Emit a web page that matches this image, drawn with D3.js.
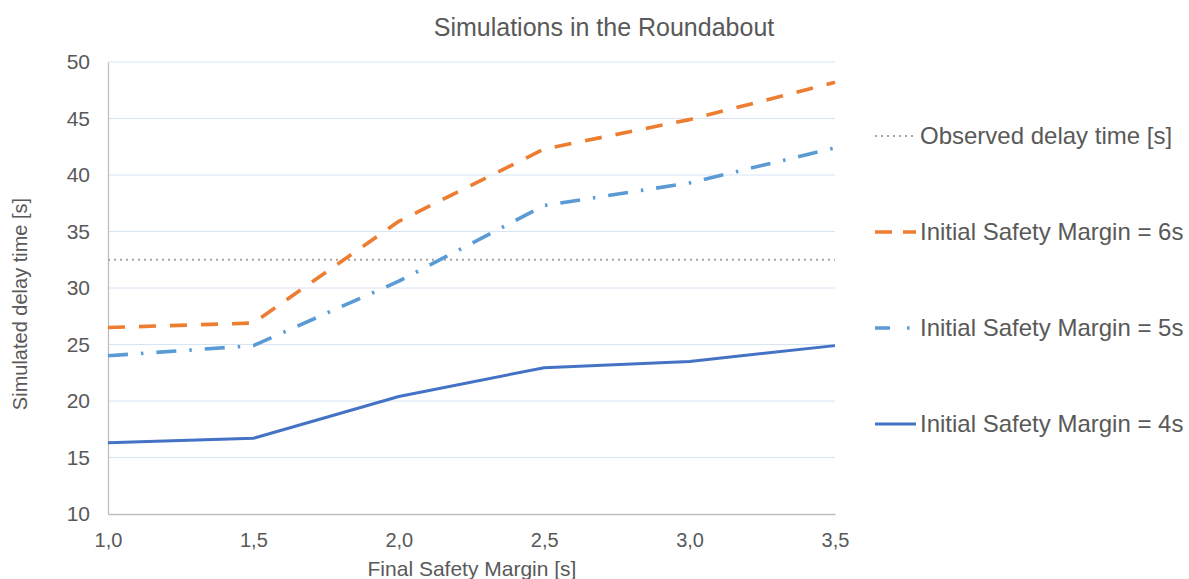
<!DOCTYPE html>
<html>
<head>
<meta charset="utf-8">
<script src="https://cdn.jsdelivr.net/npm/d3@7"></script>
<style>
  html, body { margin: 0; padding: 0; background: #fff; }
  svg { display: block; font-family: "Liberation Sans", Arial, sans-serif; }
</style>
</head>
<body>
<svg id="chart" width="1189" height="579"></svg>
<script>
// Final safety margin values along the x axis
const finalMargins = [1.0, 1.5, 2.0, 2.5, 3.0, 3.5];
// Simulated delay times for each initial safety margin
const delay6s = [26.5, 26.9, 35.9, 42.3, 44.9, 48.2];
const delay5s = [24.0, 24.9, 30.6, 37.3, 39.3, 42.4];
const delay4s = [16.3, 16.7, 20.4, 22.95, 23.5, 24.9];
// Observed delay time (constant reference)
const observedDelay = 32.5;
const yTicks = [10, 15, 20, 25, 30, 35, 40, 45, 50];

const svg = d3.select("#chart");
const margin = { left: 108, right: 354, top: 62, bottom: 65 };
const W = 1189, H = 579;

const x = d3.scaleLinear().domain([1.0, 3.5]).range([margin.left, W - margin.right]);
const y = d3.scaleLinear().domain([10, 50]).range([H - margin.bottom, margin.top]);

const textColor = "#595959";
const fontStack = "Liberation Sans, Arial, sans-serif";

// Title
svg.append("text")
  .attr("x", 604).attr("y", 36)
  .attr("text-anchor", "middle")
  .attr("font-size", 25).attr("fill", textColor)
  .text("Simulations in the Roundabout");

// Horizontal gridlines
svg.append("g")
  .selectAll("line")
  .data(yTicks.filter(d => d > 10))
  .join("line")
  .attr("x1", x(1.0)).attr("x2", x(3.5))
  .attr("y1", d => y(d)).attr("y2", d => y(d))
  .attr("stroke", "#d6e4f3").attr("stroke-width", 1);

// Y axis
const yAxis = svg.append("g")
  .attr("transform", `translate(${x(1.0)},0)`)
  .call(d3.axisLeft(y).tickValues(yTicks).tickSize(0).tickPadding(18).tickFormat(d3.format("d")));
yAxis.select(".domain").attr("stroke", "#bfbfbf").attr("stroke-width", 1.3);
yAxis.selectAll("text").attr("font-size", 21).attr("fill", textColor)
  .attr("font-family", fontStack);

// X axis
const fmtComma = d => d3.format(".1f")(d).replace(".", ",");
const xAxis = svg.append("g")
  .attr("transform", `translate(0,${y(10)})`)
  .call(d3.axisBottom(x).tickValues(finalMargins).tickSize(0).tickPadding(19).tickFormat(fmtComma));
xAxis.select(".domain").attr("stroke", "#bfbfbf").attr("stroke-width", 1.3);
xAxis.selectAll("text").attr("font-size", 20).attr("fill", textColor)
  .attr("font-family", fontStack);

// Axis titles
svg.append("text")
  .attr("x", 472).attr("y", 576)
  .attr("text-anchor", "middle")
  .attr("font-size", 21).attr("fill", textColor)
  .text("Final Safety Margin [s]");

svg.append("text")
  .attr("transform", `translate(27,304) rotate(-90)`)
  .attr("text-anchor", "middle")
  .attr("font-size", 20).attr("fill", textColor)
  .text("Simulated delay time [s]");

// Series definitions
const series = [
  { name: "Observed delay time [s]", values: finalMargins.map(() => observedDelay), color: "#a5a5a5", width: 2.2, dash: "2,4", legendDash: "2,4" },
  { name: "Initial Safety Margin = 6s", values: delay6s, color: "#ed7d31", width: 3.6, dash: "17,14", legendDash: "17,11" },
  { name: "Initial Safety Margin = 5s", values: delay5s, color: "#5b9bd5", width: 3.6, dash: "20,13,2.5,13", legendDash: "15,17,2.5,10" },
  { name: "Initial Safety Margin = 4s", values: delay4s, color: "#4472c4", width: 3, dash: null, legendDash: null }
];

const line = d3.line()
  .x((d, i) => x(finalMargins[i]))
  .y(d => y(d));

svg.append("g")
  .selectAll("path")
  .data(series)
  .join("path")
  .attr("d", d => line(d.values))
  .attr("fill", "none")
  .attr("stroke", d => d.color)
  .attr("stroke-width", d => d.width)
  .attr("stroke-dasharray", d => d.dash)
  .attr("stroke-linejoin", "round");

// Legend
const legendY = [136, 232, 328, 424];
const legend = svg.append("g")
  .selectAll("g")
  .data(series)
  .join("g")
  .attr("transform", (d, i) => `translate(875,${legendY[i]})`);

legend.append("line")
  .attr("x1", 0).attr("x2", 41)
  .attr("y1", 0).attr("y2", 0)
  .attr("stroke", d => d.color)
  .attr("stroke-width", d => d.width)
  .attr("stroke-dasharray", d => d.legendDash);

legend.append("text")
  .attr("x", 45).attr("y", 0)
  .attr("dy", "0.35em")
  .attr("font-size", 24).attr("fill", textColor)
  .text(d => d.name);
</script>
</body>
</html>
